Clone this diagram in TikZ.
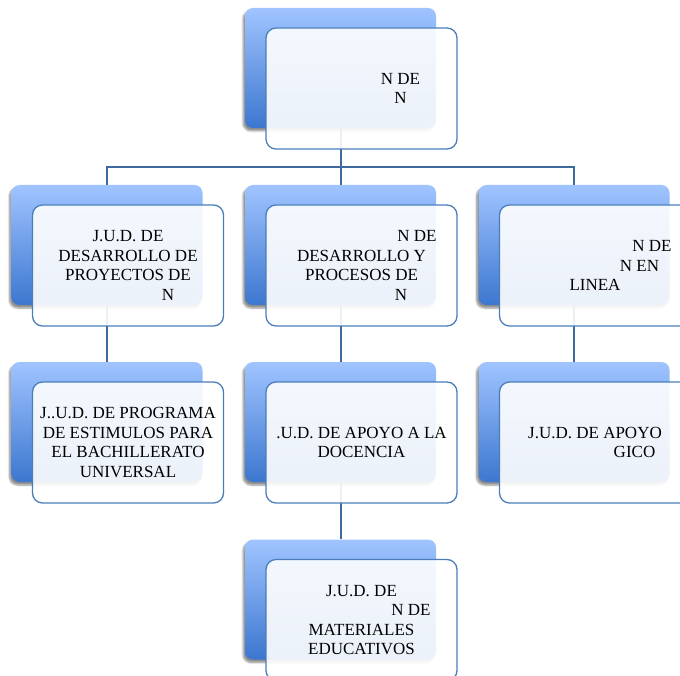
\documentclass[tikz,border=0pt]{standalone}
\usepackage{fontspec}
\setmainfont{Liberation Serif}
\usetikzlibrary{shadows.blur}
\definecolor{bluetop}{HTML}{A0C4FF}
\definecolor{bluebot}{HTML}{3C77CF}
\definecolor{boxline}{HTML}{4A7EBB}
\definecolor{connline}{HTML}{3F6A9F}
\tikzstyle{cback}=[rectangle, rounded corners=8pt, minimum width=191pt, minimum height=120pt, inner sep=0pt, top color=bluetop, bottom color=bluebot, blur shadow={shadow xshift=-2pt, shadow yshift=-3pt, shadow blur steps=6, shadow opacity=45}]
\tikzstyle{cfront}=[rectangle, rounded corners=10pt, draw=boxline, line width=1.3pt, fill=white, fill opacity=0.9, text opacity=1, draw opacity=1, minimum width=191pt, minimum height=121pt, inner sep=0pt, align=center, font=\fontsize{17}{19.5}\selectfont]
\tikzstyle{conn}=[draw=connline, line width=2pt]

\begin{document}
\begin{tikzpicture}[x=1pt, y=-1pt]
\useasboundingbox (0,0) rectangle (680,676);
\clip (0,0) rectangle (680,676);

% back boxes
\node[cback] (b1) at (340.5,68) {};
\node[cback] (b2) at (107,245) {};
\node[cback] (b3) at (340.5,245) {};
\node[cback] (b4) at (574,245) {};
\node[cback] (b5) at (107,422) {};
\node[cback] (b6) at (340.5,422) {};
\node[cback] (b7) at (340.5,599.5) {};
\node[cback] (b8) at (574,422) {};

% connectors
\draw[conn] (b1.south) -- ++(0,38.7) coordinate (bus);
\draw[conn] (bus) -| (b2.north);
\draw[conn] (bus) -- (b3.north);
\draw[conn] (bus) -| (b4.north);
\draw[conn] (b2.south) -- (b5.north);
\draw[conn] (b3.south) -- (b6.north);
\draw[conn] (b6.south) -- (b7.north);
\draw[conn] (b4.south) -- (b8.north);

% front boxes
\node[cfront] (n1) at (361.5,88.5) {\hspace*{78pt}N DE\\\hspace*{78pt}N};
\node[cfront] (n2) at (128,265.5) {J.U.D. DE\\DESARROLLO DE\\PROYECTOS DE\\\hspace*{80pt}N};
\node[cfront] (n3) at (361.5,265.5) {\hspace*{111pt}N DE\\DESARROLLO Y\\PROCESOS DE\\\hspace*{79pt}N};
\node[cfront] (n4) at (595,265.5) {\hspace*{114pt}N DE\\\hspace*{89pt}N EN\\LINEA};
\node[cfront] (n5) at (128,442.5) {J..U.D. DE PROGRAMA\\DE ESTIMULOS PARA\\EL BACHILLERATO\\UNIVERSAL};
\node[cfront] (n6) at (361.5,442.5) {.U.D. DE APOYO A LA\\DOCENCIA};
\node[cfront] (n7) at (361.5,620) {J.U.D. DE\\\hspace*{99pt}N DE\\MATERIALES\\EDUCATIVOS};
\node[cfront] (n8) at (595,442.5) {J.U.D. DE APOYO\\\hspace*{79pt}GICO};

\end{tikzpicture}
\end{document}
